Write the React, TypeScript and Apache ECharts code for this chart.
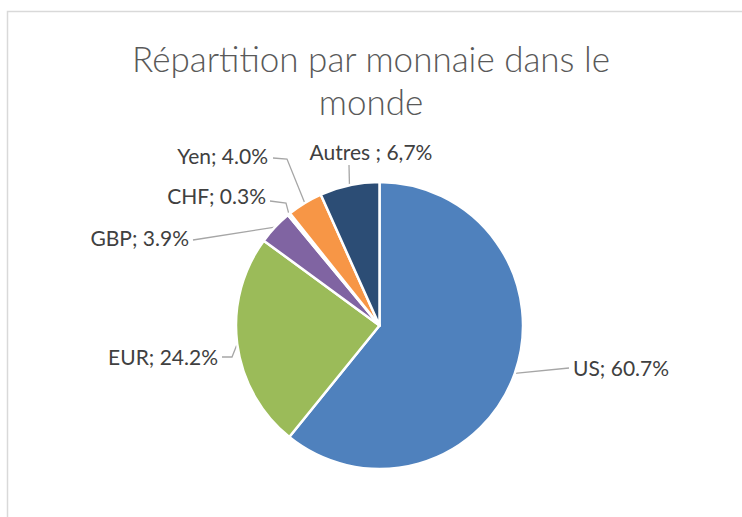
import React, { useEffect, useRef } from "react";
import * as echarts from "echarts";

const titleText = "Répartition par monnaie dans le\nmonde";
const categories = ["US", "EUR", "GBP", "CHF", "Yen", "Autres"];
const values = [60.7, 24.2, 3.9, 0.3, 4.0, 6.7];
const labelTexts = ["US; 60.7%", "EUR; 24.2%", "GBP; 3.9%", "CHF; 0.3%", "Yen; 4.0%", "Autres ; 6,7%"];
const colors = ["#4F81BD", "#9BBB59", "#8064A2", "#4BACC6", "#F79646", "#2C4D75"];

const FONT = "Lato, 'Open Sans', sans-serif";

// label anchor positions (label placement, not mark coordinates)
const labelSpots: Array<{ x: number; y: number; align: string; bend?: [number, number]; end: [number, number] }> = [
  { x: 573, y: 367, align: "left", end: [569, 368] },
  { x: 218, y: 356, align: "right", bend: [232, 357], end: [222, 357] },
  { x: 189, y: 237, align: "right", end: [193, 240] },
  { x: 266, y: 195, align: "right", bend: [286, 203], end: [270, 201] },
  { x: 268, y: 155, align: "right", bend: [287, 159], end: [273, 158] },
  { x: 371, y: 151, align: "center", end: [349, 165] },
];

export default function App() {
  const ref = useRef<HTMLDivElement>(null);
  useEffect(() => {
    if (!ref.current) return;
    const chart = echarts.init(ref.current, undefined, { renderer: "svg" });
    chart.setOption({
      animation: false,
      backgroundColor: "#ffffff",
      title: {
        text: titleText,
        left: "center",
        top: 31,
        textStyle: {
          fontFamily: FONT,
          fontSize: 35,
          fontWeight: 300,
          color: "#595959",
          lineHeight: 43,
        },
      },
      graphic: [
        {
          type: "rect",
          shape: { x: 7.5, y: 11.5, width: 780, height: 540 },
          style: { fill: "none", stroke: "#d9d9d9", lineWidth: 1.5 },
          silent: true,
        },
      ],
      series: [
        {
          type: "pie",
          center: [379.5, 325.5],
          radius: 143.5,
          startAngle: 90,
          clockwise: true,
          avoidLabelOverlap: false,
          itemStyle: { borderColor: "#ffffff", borderWidth: 2.5 },
          label: {
            show: true,
            formatter: (p: any) => labelTexts[p.dataIndex],
            fontFamily: FONT,
            fontSize: 21,
            color: "#404040",
          },
          labelLine: {
            show: true,
            lineStyle: { color: "#a6a6a6", width: 1.3 },
          },
          labelLayout: (params: any) => {
            const s = labelSpots[params.dataIndex];
            const p0 = params.labelLinePoints ? params.labelLinePoints[0] : s.end;
            const pts = s.bend ? [p0, s.bend, s.end] : [p0, s.end];
            return {
              x: s.x,
              y: s.y,
              align: s.align,
              verticalAlign: "middle",
              labelLinePoints: pts,
            };
          },
          data: categories.map((c, i) => ({
            name: c,
            value: values[i],
            itemStyle: { color: colors[i] },
          })),
        },
      ],
    });
    return () => chart.dispose();
  }, []);
  return (
    <div
      ref={ref}
      style={{ position: "fixed", left: 0, top: 0, width: 742, height: 517 }}
    />
  );
}
